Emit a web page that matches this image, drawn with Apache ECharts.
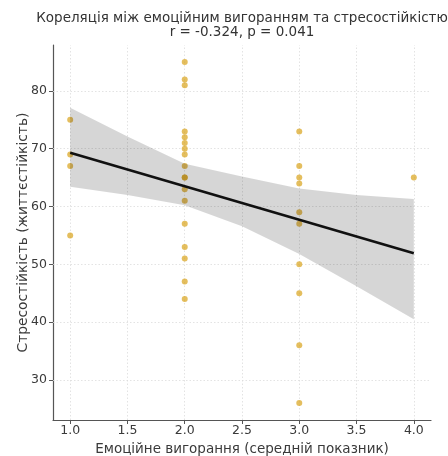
<!DOCTYPE html>
<html>
<head>
<meta charset="utf-8">
<script src="https://cdn.jsdelivr.net/npm/echarts@6/dist/echarts.min.js"></script>
<style>
html,body{margin:0;padding:0;background:#fff;}
#chart{width:448px;height:456px;}
</style>
</head>
<body>
<div id="chart"></div>
<script>
// ---- data ----
const titleLine1 = 'Кореляція між емоційним вигоранням та стресостійкістю';
const titleLine2 = 'r = -0.324, p = 0.041';
const xAxisName = 'Емоційне вигорання (середній показник)';
const yAxisName = 'Стресостійкість (життєстійкість)';

const burnoutLevels = [1, 2, 3, 4];
const resilienceAt1 = [75, 69, 67, 55];
const resilienceAt2 = [85, 82, 81, 73, 72, 71, 70, 69, 67, 65, 65, 63, 61, 57, 53, 51, 47, 44];
const resilienceAt3 = [73, 67, 65, 64, 59, 57, 50, 45, 36, 26];
const resilienceAt4 = [65];

const fitX = [1, 4];
const fitY = [69.3, 51.9];

const bandX = [1, 1.5, 2, 2.5, 3, 3.5, 4];
const bandUpper = [77.1, 72.1, 67.4, 65.2, 63.1, 62.0, 61.3];
const bandLower = [63.4, 62.0, 60.2, 56.6, 51.8, 46.2, 40.5];

const xTicks = [1.0, 1.5, 2.0, 2.5, 3.0, 3.5, 4.0];
const yTicks = [30, 40, 50, 60, 70, 80];

// ---- build ----
const groups = [resilienceAt1, resilienceAt2, resilienceAt3, resilienceAt4];
const points = [];
groups.forEach((g, i) => g.forEach(v => points.push([burnoutLevels[i], v])));

const font = 'DejaVu Sans';
const textColor = '#3a3a3a';
const gridLineStyle = {color: '#dcdcdc', width: 0.8, type: [1.5, 2]};

const markLines = [];
xTicks.forEach(v => markLines.push({xAxis: v}));
yTicks.forEach(v => markLines.push({yAxis: v}));

const chart = echarts.init(document.getElementById('chart'), null, {renderer: 'canvas'});
chart.setOption({
  animation: false,
  backgroundColor: '#fff',
  title: {
    text: titleLine1 + '\n' + titleLine2,
    left: 237,
    top: 7,
    textAlign: 'center',
    textStyle: {fontFamily: font, fontSize: 13.5, fontWeight: 'normal', color: '#333', lineHeight: 13.5}
  },
  grid: {left: 53, right: 17, top: 45, bottom: 36, containLabel: false, outerBoundsMode: 'none'},
  xAxis: {
    type: 'value', min: 0.85, max: 4.15,
    name: xAxisName, nameLocation: 'middle', nameGap: 22, nameMoveOverlap: false,
    nameTextStyle: {fontFamily: font, fontSize: 13.5, color: textColor},
    axisLine: {show: true, onZero: false, lineStyle: {color: '#555', width: 1.2}},
    axisTick: {show: true, length: 4, customValues: xTicks, lineStyle: {color: '#555'}},
    axisLabel: {customValues: xTicks, fontFamily: font, fontSize: 12.5, color: textColor, margin: 4,
      formatter: v => Number(v).toFixed(1)},
    splitLine: {show: false}
  },
  yAxis: {
    type: 'value', min: 23.05, max: 87.95,
    name: yAxisName, nameLocation: 'middle', nameGap: 23, nameRotate: 90, nameMoveOverlap: false,
    nameTextStyle: {fontFamily: font, fontSize: 13.8, color: textColor},
    axisLine: {show: true, onZero: false, lineStyle: {color: '#555', width: 1.2}},
    axisTick: {show: true, length: 4, customValues: yTicks, lineStyle: {color: '#555'}},
    axisLabel: {customValues: yTicks, fontFamily: font, fontSize: 12.5, color: textColor, margin: 6},
    splitLine: {show: false}
  },
  series: [
    {
      type: 'scatter', data: points, symbolSize: 6, z: 2,
      itemStyle: {color: 'rgba(218,165,32,0.9)'},
      markLine: {silent: true, symbol: 'none', label: {show: false}, lineStyle: gridLineStyle, data: markLines, z: 1}
    },
    {
      type: 'custom', z: 3, silent: true,
      data: [[bandX[0], bandUpper[0]]],
      encode: {x: 0, y: 1},
      renderItem: function (params, api) {
        const pts = [];
        for (let i = 0; i < bandX.length; i++) pts.push(api.coord([bandX[i], bandUpper[i]]));
        for (let i = bandX.length - 1; i >= 0; i--) pts.push(api.coord([bandX[i], bandLower[i]]));
        return {type: 'polygon', shape: {points: pts}, style: {fill: 'rgba(0,0,0,0.16)'}};
      }
    },
    {
      type: 'line', data: fitX.map((x, i) => [x, fitY[i]]), symbol: 'none',
      lineStyle: {color: '#111', width: 2.6}, z: 4, silent: true
    }
  ]
});
</script>
</body>
</html>
